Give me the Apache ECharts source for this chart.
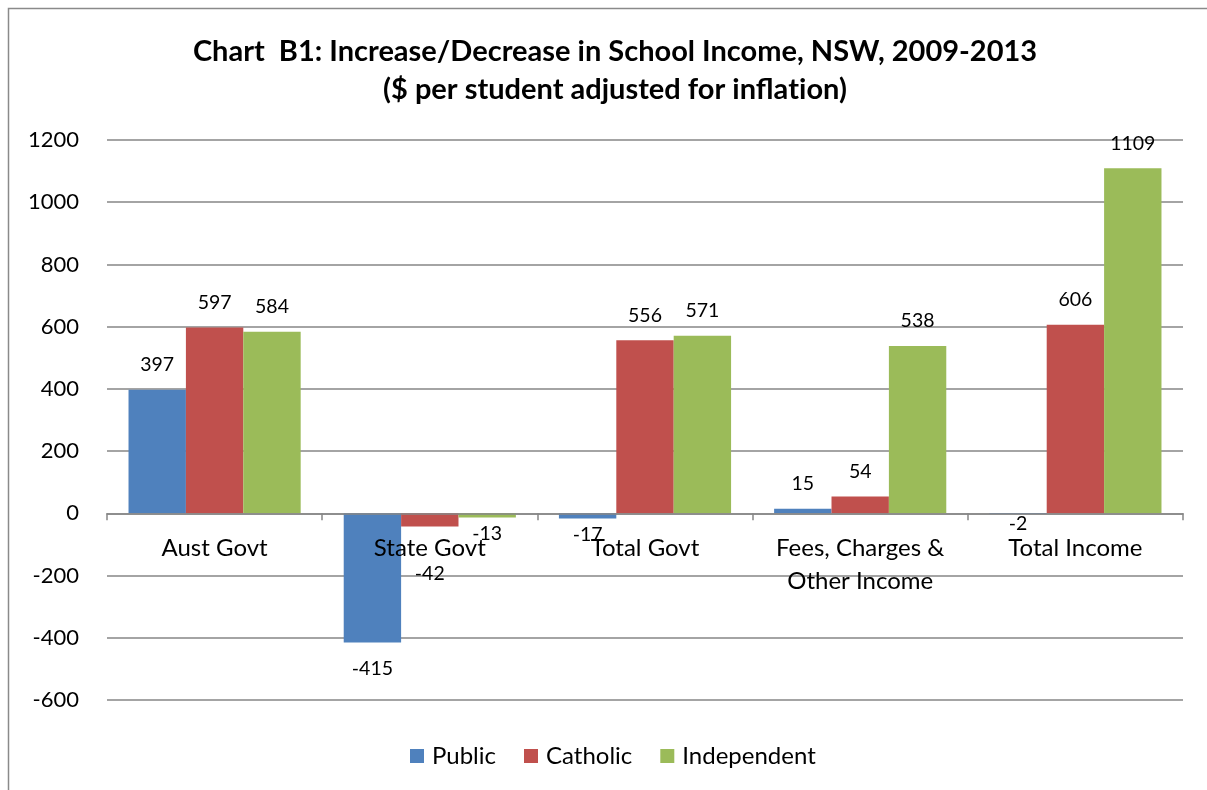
<!DOCTYPE html>
<html>
<head>
<meta charset="utf-8">
<style>
  html, body { margin: 0; padding: 0; background: #fff; }
  #chart { width: 1207px; height: 790px; }
</style>
<script src="https://cdn.jsdelivr.net/npm/echarts@6/dist/echarts.min.js"></script>
</head>
<body>
<div id="chart"></div>
<script>
// School income change per student, NSW 2009-2013 (inflation adjusted)
const categories = ['Aust Govt', 'State Govt', 'Total Govt', 'Fees, Charges &\nOther Income', 'Total Income'];
const publicValues = [397, -415, -17, 15, -2];
const catholicValues = [597, -42, 556, 54, 606];
const independentValues = [584, -13, 571, 538, 1109];
const yTicks = { min: -600, max: 1200, interval: 200 };

// label gap below the end of negative bars (some are nudged to keep clear of the category text)
const negativeGap = { '-415': 16, '-42': 37, '-17': 6, '-13': 6, '-2': 0 };

function withLabels(values) {
  return values.map(v => {
    if (v < 0) {
      return { value: v, label: { position: 'bottom', distance: negativeGap[String(v)] ?? 16 } };
    }
    return { value: v, label: { position: 'top', distance: 15 } };
  });
}

const FONT = 'Lato, "Open Sans", sans-serif';

const seriesDefs = [
  { name: 'Public', values: publicValues, color: '#4F81BD' },
  { name: 'Catholic', values: catholicValues, color: '#C0504D' },
  { name: 'Independent', values: independentValues, color: '#9BBB59' }
];

// plot box
const GRID = { left: 107, right: 24, top: 140, bottom: 90 };
const plotHeight = 790 - GRID.top - GRID.bottom;
// lift the category axis (labels included) from the bottom edge up to the zero line
const zeroOffset = -plotHeight * (0 - yTicks.min) / (yTicks.max - yTicks.min);

const titleStyle = {
  fontFamily: FONT,
  fontWeight: 'bold',
  fontSize: 29,
  lineHeight: 38,
  color: '#000'
};

const chart = echarts.init(document.getElementById('chart'), null, { renderer: 'canvas' });

chart.setOption({
  animation: false,
  backgroundColor: '#ffffff',
  textStyle: { fontFamily: FONT },
  graphic: [{
    type: 'rect',
    silent: true,
    shape: { x: 8.5, y: 8.5, width: 1400, height: 1000 },
    style: { fill: 'none', stroke: '#8a8a8a', lineWidth: 1.5 }
  }],
  title: {
    // "t" of "inflation" sits in its own span so the font draws plain t + i
    text: 'Chart  B1: Increase/Decrease in School Income, NSW, 2009-2013\n{b|($ per student adjusted for infla}{b|t}{b|ion)}',
    left: 610,
    top: 28,
    textAlign: 'center',
    textStyle: Object.assign({}, titleStyle, { rich: { b: titleStyle } })
  },
  legend: {
    data: seriesDefs.map(s => s.name),
    left: 410,
    top: 744,
    padding: 0,
    itemWidth: 14,
    itemHeight: 14,
    itemGap: 28,
    icon: 'rect',
    textStyle: { fontFamily: FONT, fontSize: 24, color: '#000', padding: [0, 0, 0, 3] }
  },
  grid: { left: GRID.left, right: GRID.right, top: GRID.top, bottom: GRID.bottom, containLabel: false },
  xAxis: {
    type: 'category',
    data: categories,
    position: 'bottom',
    offset: zeroOffset,
    z: 5,
    axisLine: { onZero: false, lineStyle: { color: '#868686', width: 1.5 } },
    axisTick: { show: true, alignWithLabel: false, length: 7, lineStyle: { color: '#868686', width: 1.5 } },
    axisLabel: {
      fontFamily: FONT,
      fontSize: 24,
      color: '#000',
      margin: 18,
      lineHeight: 33,
      interval: 0
    },
    splitLine: { show: false }
  },
  yAxis: {
    type: 'value',
    min: yTicks.min,
    max: yTicks.max,
    interval: yTicks.interval,
    axisLine: { show: false },
    axisTick: { show: false },
    axisLabel: { fontFamily: FONT, fontSize: 22, color: '#000', margin: 28, formatter: v => String(v) },
    splitLine: { lineStyle: { color: '#868686', width: 1.5 } }
  },
  series: seriesDefs.map(s => ({
    name: s.name,
    type: 'bar',
    data: withLabels(s.values),
    barGap: '0%',
    barCategoryGap: '20%',
    itemStyle: { color: s.color },
    label: {
      show: true,
      fontFamily: FONT,
      fontSize: 19.5,
      color: '#000'
    }
  }))
});
</script>
</body>
</html>
